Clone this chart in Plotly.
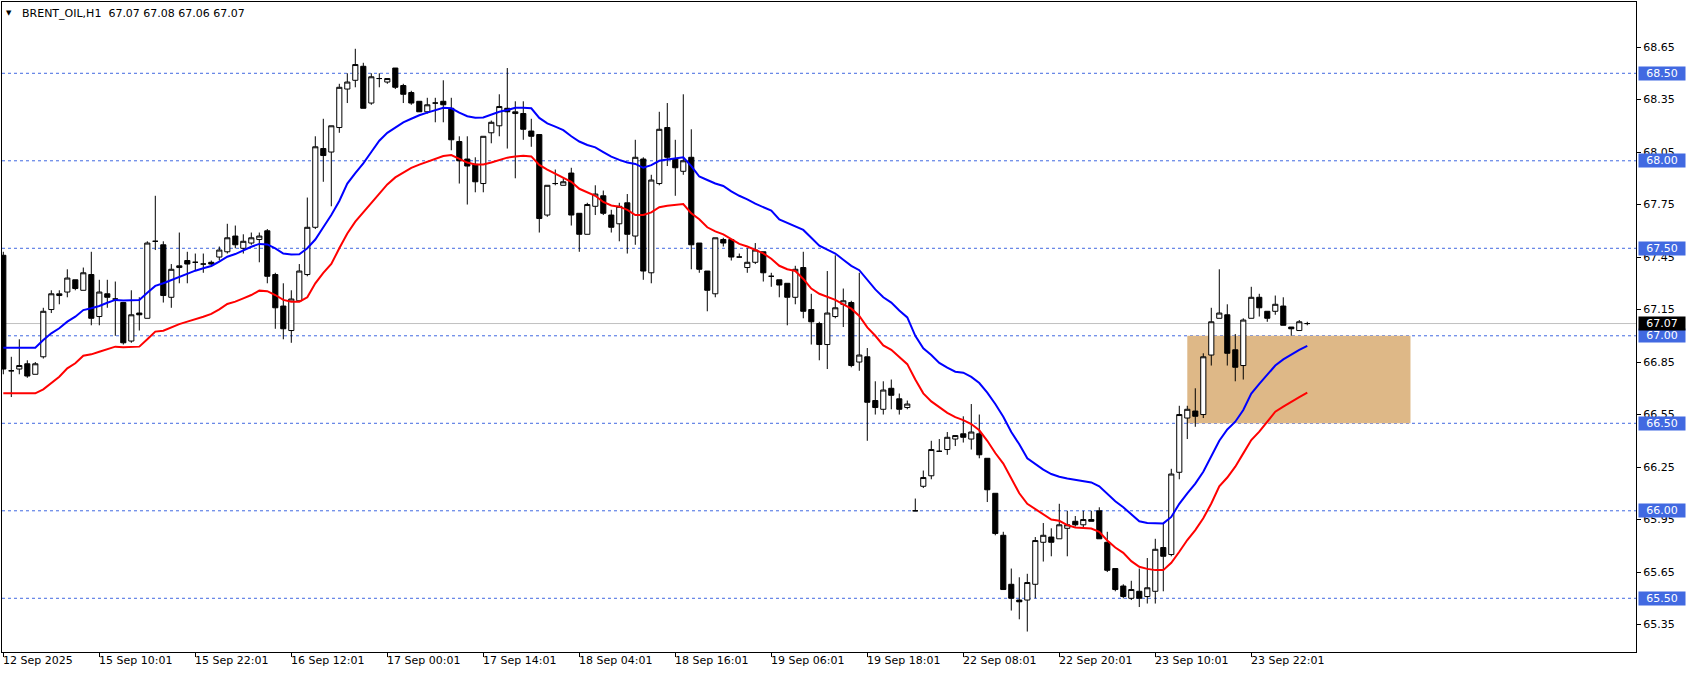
import plotly.graph_objects as go

# ---------------- data ----------------
bars = list(range(164))

opens = [
    67.46, 66.80, 66.81, 66.84, 66.78, 66.88, 67.15, 67.23, 67.25, 67.32,
    67.26, 67.35, 67.11, 67.24, 67.21, 67.19, 66.97, 67.13, 67.10, 67.54,
    67.52, 67.22, 67.39, 67.43, 67.42, 67.41, 67.42, 67.45, 67.48, 67.57,
    67.50, 67.53, 67.55, 67.60, 67.35, 67.17, 67.03, 67.20, 67.35, 67.62,
    68.07, 68.05, 68.19, 68.41, 68.46, 68.54, 68.33, 68.47, 68.45, 68.53,
    68.43, 68.39, 68.34, 68.28, 68.33, 68.34, 68.30, 68.11, 68.01, 67.98,
    67.87, 68.16, 68.20, 68.30, 68.27, 68.27, 68.17, 68.15, 67.69, 67.87,
    67.86, 67.93, 67.70, 67.58, 67.74, 67.80, 67.69, 67.64, 67.76, 67.57,
    68.01, 67.36, 67.87, 68.19, 68.01, 67.94, 68.02, 67.53, 67.37, 67.24,
    67.55, 67.55, 67.45, 67.39, 67.42, 67.48, 67.34, 67.32, 67.30, 67.22,
    67.39, 67.15, 67.07, 66.95, 67.11, 67.18, 67.19, 66.85, 66.88, 66.63,
    66.58, 66.70, 66.64, 66.59, 66.00, 66.14, 66.20, 66.34, 66.35, 66.41,
    66.44, 66.41, 66.44, 66.30, 66.10, 65.86, 65.58, 65.49, 65.49, 65.58,
    65.82, 65.85, 65.84, 65.90, 65.94, 65.92, 65.95, 66.00, 65.82, 65.67,
    65.57, 65.50, 65.54, 65.51, 65.54, 65.79, 65.75, 66.22, 66.53, 66.57,
    66.55, 66.89, 67.10, 67.12, 66.92, 66.83, 67.10, 67.22, 67.14, 67.14,
    67.17, 67.05, 67.03, 67.07,
]
highs = [
    67.48, 66.88, 66.98, 66.86, 66.85, 67.16, 67.26, 67.26, 67.38, 67.32,
    67.39, 67.48, 67.32, 67.32, 67.31, 67.19, 67.26, 67.22, 67.54, 67.80,
    67.54, 67.41, 67.59, 67.48, 67.47, 67.47, 67.43, 67.51, 67.64, 67.63,
    67.58, 67.59, 67.59, 67.61, 67.36, 67.30, 67.26, 67.41, 67.79, 68.14,
    68.24, 68.20, 68.44, 68.50, 68.64, 68.56, 68.50, 68.50, 68.47, 68.53,
    68.44, 68.40, 68.34, 68.36, 68.36, 68.46, 68.36, 68.14, 68.14, 68.02,
    68.14, 68.23, 68.38, 68.53, 68.34, 68.34, 68.24, 68.15, 67.86, 67.95,
    67.90, 67.96, 67.70, 67.76, 67.86, 67.83, 67.72, 67.76, 67.81, 68.12,
    68.02, 67.92, 68.28, 68.33, 68.12, 68.38, 68.18, 67.53, 67.37, 67.56,
    67.56, 67.55, 67.47, 67.50, 67.53, 67.48, 67.36, 67.32, 67.30, 67.40,
    67.48, 67.24, 67.08, 67.37, 67.46, 67.27, 67.20, 67.36, 66.93, 66.74,
    66.74, 66.75, 66.67, 66.63, 66.07, 66.23, 66.40, 66.41, 66.45, 66.43,
    66.54, 66.61, 66.55, 66.30, 66.10, 65.88, 65.67, 65.62, 65.64, 65.85,
    65.93, 65.90, 66.04, 66.00, 65.97, 66.00, 66.00, 66.02, 65.88, 65.67,
    65.58, 65.60, 65.67, 65.73, 65.84, 65.93, 66.24, 66.60, 66.60, 66.70,
    66.90, 67.16, 67.38, 67.18, 67.01, 67.10, 67.28, 67.24, 67.14, 67.23,
    67.22, 67.05, 67.09, 67.08,
]
lows = [
    66.78, 66.65, 66.78, 66.76, 66.78, 66.87, 67.13, 67.18, 67.22, 67.26,
    67.26, 67.06, 67.06, 67.16, 67.00, 66.95, 66.96, 67.03, 67.10, 67.49,
    67.19, 67.16, 67.30, 67.30, 67.37, 67.36, 67.40, 67.43, 67.47, 67.50,
    67.47, 67.52, 67.42, 67.30, 67.04, 66.98, 66.96, 67.20, 67.34, 67.61,
    67.88, 67.74, 68.16, 68.33, 68.42, 68.30, 68.32, 68.42, 68.44, 68.41,
    68.33, 68.32, 68.28, 68.27, 68.22, 68.22, 68.06, 67.87, 67.75, 67.82,
    67.82, 68.10, 68.14, 68.07, 67.90, 68.12, 68.08, 67.59, 67.68, 67.86,
    67.86, 67.63, 67.48, 67.58, 67.69, 67.69, 67.59, 67.54, 67.47, 67.52,
    67.32, 67.30, 67.86, 67.97, 67.80, 67.92, 67.38, 67.36, 67.14, 67.22,
    67.51, 67.43, 67.45, 67.36, 67.41, 67.31, 67.28, 67.22, 67.06, 67.18,
    67.10, 66.95, 66.86, 66.81, 67.10, 67.05, 66.82, 66.80, 66.40, 66.55,
    66.55, 66.58, 66.55, 66.58, 66.00, 66.13, 66.18, 66.34, 66.32, 66.37,
    66.39, 66.35, 66.30, 66.05, 65.86, 65.55, 65.43, 65.38, 65.31, 65.50,
    65.71, 65.74, 65.84, 65.74, 65.91, 65.90, 65.94, 65.84, 65.65, 65.54,
    65.50, 65.49, 65.45, 65.47, 65.47, 65.54, 65.74, 66.18, 66.41, 66.48,
    66.53, 66.83, 67.10, 66.83, 66.74, 66.75, 67.10, 67.11, 67.08, 67.12,
    67.06, 67.00, 67.03, 67.06,
]
closes = [
    66.81, 66.80, 66.83, 66.77, 66.84, 67.14, 67.24, 67.24, 67.33, 67.27,
    67.36, 67.10, 67.25, 67.22, 67.21, 66.96, 67.12, 67.12, 67.53, 67.54,
    67.23, 67.38, 67.40, 67.41, 67.42, 67.41, 67.41, 67.49, 67.56, 67.52,
    67.54, 67.56, 67.57, 67.34, 67.16, 67.04, 67.21, 67.37, 67.62, 68.08,
    68.03, 68.20, 68.42, 68.45, 68.55, 68.30, 68.48, 68.47, 68.47, 68.42,
    68.38, 68.33, 68.28, 68.32, 68.33, 68.32, 68.12, 68.00, 67.97, 67.88,
    68.14, 68.22, 68.31, 68.28, 68.28, 68.18, 68.14, 67.67, 67.86, 67.87,
    67.88, 67.69, 67.58, 67.75, 67.81, 67.70, 67.62, 67.74, 67.58, 68.02,
    67.37, 67.89, 68.18, 68.02, 67.96, 68.00, 67.52, 67.38, 67.26, 67.56,
    67.53, 67.45, 67.45, 67.42, 67.49, 67.36, 67.34, 67.29, 67.22, 67.38,
    67.14, 67.08, 66.95, 67.13, 67.16, 67.20, 66.83, 66.89, 66.62, 66.59,
    66.69, 66.66, 66.58, 66.61, 66.00, 66.19, 66.35, 66.34, 66.42, 66.43,
    66.42, 66.45, 66.32, 66.12, 65.87, 65.55, 65.50, 65.48, 65.59, 65.83,
    65.86, 65.82, 65.92, 65.92, 65.92, 65.95, 65.94, 65.84, 65.66, 65.55,
    65.51, 65.55, 65.50, 65.56, 65.78, 65.74, 66.21, 66.55, 66.58, 66.54,
    66.88, 67.08, 67.13, 66.90, 66.82, 67.09, 67.22, 67.16, 67.10, 67.18,
    67.06, 67.04, 67.08, 67.07,
]

ma_blue = [
    66.932, 66.932, 66.932, 66.932, 66.932, 66.976, 67.014, 67.043, 67.081, 67.109,
    67.147, 67.157, 67.170, 67.189, 67.205, 67.201, 67.201, 67.205, 67.246, 67.285,
    67.300, 67.319, 67.334, 67.353, 67.372, 67.386, 67.399, 67.424, 67.452, 67.467,
    67.490, 67.509, 67.525, 67.522, 67.500, 67.470, 67.465, 67.466, 67.500, 67.550,
    67.620, 67.690, 67.770, 67.870, 67.930, 67.985, 68.050, 68.115, 68.160, 68.190,
    68.220, 68.240, 68.260, 68.275, 68.290, 68.303, 68.300, 68.275, 68.255, 68.246,
    68.248, 68.265, 68.280, 68.290, 68.303, 68.303, 68.300, 68.245, 68.214, 68.195,
    68.175, 68.140, 68.110, 68.090, 68.077, 68.050, 68.024, 68.005, 67.990, 67.982,
    67.960, 67.975, 68.000, 68.008, 68.015, 68.020, 67.970, 67.910, 67.890, 67.870,
    67.856, 67.825, 67.800, 67.780, 67.755, 67.735, 67.715, 67.665, 67.645, 67.625,
    67.605, 67.560, 67.515, 67.492, 67.470, 67.435, 67.400, 67.375, 67.320, 67.265,
    67.220, 67.190, 67.145, 67.105, 67.000, 66.928, 66.890, 66.845, 66.818, 66.795,
    66.789, 66.765, 66.730, 66.675, 66.610, 66.537, 66.450, 66.380, 66.300, 66.265,
    66.235, 66.210, 66.195, 66.185, 66.178, 66.172, 66.162, 66.140, 66.095, 66.055,
    66.020, 65.980, 65.940, 65.930, 65.928, 65.928, 65.965, 66.040, 66.100, 66.155,
    66.223, 66.310, 66.400, 66.465, 66.509, 66.576, 66.670, 66.725, 66.780, 66.830,
    66.865, 66.895, 66.920, 66.943,
]
ma_red = [
    66.671, 66.671, 66.671, 66.671, 66.671, 66.694, 66.732, 66.766, 66.814, 66.843,
    66.886, 66.894, 66.909, 66.923, 66.938, 66.934, 66.934, 66.938, 66.980, 67.024,
    67.029, 67.048, 67.067, 67.081, 67.094, 67.109, 67.125, 67.151, 67.182, 67.195,
    67.214, 67.233, 67.258, 67.255, 67.233, 67.205, 67.195, 67.195, 67.220, 67.300,
    67.360, 67.410, 67.500, 67.585, 67.652, 67.705, 67.760, 67.815, 67.865, 67.905,
    67.935, 67.960, 67.978, 67.993, 68.010, 68.027, 68.033, 68.010, 67.990, 67.979,
    67.979, 67.990, 68.005, 68.018, 68.025, 68.029, 68.025, 67.976, 67.950, 67.928,
    67.905, 67.880, 67.840, 67.818, 67.800, 67.765, 67.745, 67.738, 67.720, 67.690,
    67.690, 67.705, 67.735, 67.743, 67.750, 67.753, 67.700, 67.666, 67.620, 67.597,
    67.580, 67.550, 67.525, 67.510, 67.490, 67.471, 67.440, 67.400, 67.380, 67.370,
    67.325, 67.270, 67.240, 67.222, 67.205, 67.180, 67.155, 67.113, 67.048, 67.000,
    66.945, 66.920, 66.880, 66.838, 66.750, 66.671, 66.625, 66.590, 66.560, 66.535,
    66.518, 66.496, 66.460, 66.400, 66.330, 66.270, 66.185, 66.100, 66.040, 66.010,
    65.975, 65.950, 65.943, 65.918, 65.905, 65.902, 65.899, 65.880, 65.830, 65.790,
    65.760, 65.712, 65.680, 65.668, 65.661, 65.661, 65.703, 65.766, 65.833, 65.890,
    65.957, 66.042, 66.140, 66.190, 66.252, 66.328, 66.404, 66.452, 66.509, 66.566,
    66.595, 66.625, 66.650, 66.675,
]

time_tick_bars = [0, 12, 24, 36, 48, 60, 72, 84, 96, 108, 120, 132, 144, 156]
time_tick_labels = [
    "12 Sep 2025", "15 Sep 10:01", "15 Sep 22:01", "16 Sep 12:01",
    "17 Sep 00:01", "17 Sep 14:01", "18 Sep 04:01", "18 Sep 16:01",
    "19 Sep 06:01", "19 Sep 18:01", "22 Sep 08:01", "22 Sep 20:01",
    "23 Sep 10:01", "23 Sep 22:01",
]
price_ticks = [65.35, 65.65, 65.95, 66.25, 66.55, 66.85,
               67.15, 67.45, 67.75, 68.05, 68.35, 68.65]
level_prices = [68.50, 68.00, 67.50, 67.00, 66.50, 66.00, 65.50]
current_price = 67.07
zone_top, zone_bottom = 67.00, 66.50
zone_start_bar, zone_end_bar = 148, 175.9
title_text = "BRENT_OIL,H1\u00a0\u00a067.07 67.08 67.06 67.07"

# ---------------- figure ----------------
FONT = "DejaVu Sans"
LEVEL_BLUE = "#4169E1"

fig = go.Figure()

fig.add_trace(go.Candlestick(
    x=bars, open=opens, high=highs, low=lows, close=closes,
    increasing=dict(line=dict(color="black", width=1), fillcolor="white"),
    decreasing=dict(line=dict(color="black", width=1), fillcolor="black"),
    whiskerwidth=0, showlegend=False, name="BRENT_OIL,H1",
))
fig.add_trace(go.Scatter(x=bars, y=ma_blue, mode="lines",
                         line=dict(color="#0000FF", width=2),
                         showlegend=False, hoverinfo="skip"))
fig.add_trace(go.Scatter(x=bars, y=ma_red, mode="lines",
                         line=dict(color="#FF0000", width=2),
                         showlegend=False, hoverinfo="skip"))

shapes = []
shapes.append(dict(type="rect", xref="x", yref="y",
                   x0=zone_start_bar, x1=zone_end_bar, y0=zone_bottom, y1=zone_top,
                   fillcolor="#DEB887", line=dict(width=0), layer="below"))
for lv in level_prices:
    shapes.append(dict(type="line", xref="paper", yref="y", x0=0, x1=1, y0=lv, y1=lv,
                       line=dict(color=LEVEL_BLUE, width=1, dash="3px,3px"),
                       layer="below"))
shapes.append(dict(type="line", xref="paper", yref="y", x0=0, x1=1,
                   y0=current_price, y1=current_price,
                   line=dict(color="#C0C0C0", width=1), layer="below"))

annotations = []
for lv in level_prices:
    annotations.append(dict(xref="paper", yref="y", x=1, y=lv, xanchor="left",
                            yanchor="middle", xshift=2, text=f"{lv:.2f}",
                            showarrow=False, bgcolor=LEVEL_BLUE, width=44, height=11,
                            borderpad=1, align="center",
                            font=dict(family=FONT, size=11, color="white")))
annotations.append(dict(xref="paper", yref="y", x=1, y=current_price, xanchor="left",
                        yanchor="middle", xshift=2, text=f"{current_price:.2f}",
                        showarrow=False, bgcolor="black", width=44, height=11,
                        borderpad=1, align="center",
                        font=dict(family=FONT, size=11, color="white")))
for b, lab in zip(time_tick_bars, time_tick_labels):
    annotations.append(dict(xref="x", yref="paper", x=b, y=0, xanchor="left",
                            yanchor="top", xshift=-2, yshift=0, text=lab,
                            showarrow=False,
                            font=dict(family=FONT, size=11, color="black")))
PW, PH = 1634, 650
annotations.append(dict(xref="paper", yref="paper", x=(8.5 - 2) / PW,
                        y=1 - (13.5 - 2) / PH, xanchor="center", yanchor="middle",
                        text="\u25bc", showarrow=False,
                        font=dict(family=FONT, size=7, color="black")))
annotations.append(dict(xref="paper", yref="paper", x=(19.5 - 2) / PW,
                        y=1 - (13.8 - 2) / PH, xanchor="left", yanchor="middle",
                        text=title_text, showarrow=False,
                        font=dict(family=FONT, size=11, color="black")))

fig.update_layout(
    width=1686, height=675, autosize=False,
    margin=dict(l=2, r=50, t=2, b=23, pad=0),
    paper_bgcolor="white", plot_bgcolor="white",
    font=dict(family=FONT, size=11, color="black"),
    showlegend=False, boxgap=0.2, boxgroupgap=0.2,
    shapes=shapes, annotations=annotations,
    xaxis=dict(range=[-0.1625, 204.09], rangeslider=dict(visible=False),
               tickmode="array", tickvals=time_tick_bars, showticklabels=False,
               ticks="outside", ticklen=4, tickcolor="black", tickwidth=1,
               showgrid=False, zeroline=False, showline=True, linecolor="black",
               linewidth=1, mirror=True, fixedrange=True),
    yaxis=dict(range=[65.1931, 68.9074], side="right", tickmode="array",
               tickvals=price_ticks, ticktext=[f"{p:.2f}" for p in price_ticks],
               ticks="outside", ticklen=4, tickcolor="black", tickwidth=1,
               tickfont=dict(family=FONT, size=11, color="black"),
               showgrid=False, zeroline=False, showline=True, linecolor="black",
               linewidth=1, mirror=True, fixedrange=True),
)

fig.write_html(
    "out.html",
    config={"displayModeBar": False},
    post_script="document.body.style.margin='0px';document.body.style.overflow='hidden';",
)
